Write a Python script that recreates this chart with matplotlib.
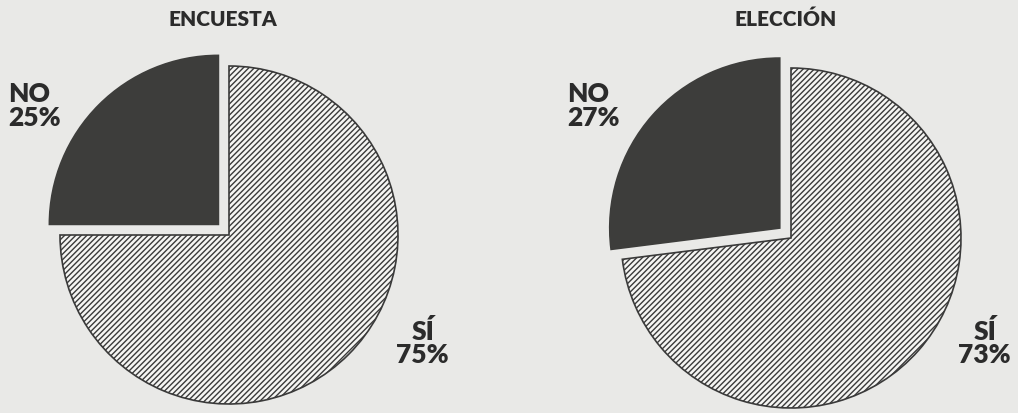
import matplotlib
matplotlib.use("Agg")
import matplotlib.pyplot as plt

# chart data
titles = ["ENCUESTA", "ELECCIÓN"]
labels = ["NO", "SÍ"]
encuesta = [25, 75]
eleccion = [27, 73]

W, H = 1018, 414
plt.rcParams["hatch.color"] = "#7a7a7a"
plt.rcParams["hatch.linewidth"] = 1.0

fig = plt.figure(figsize=(W / 100, H / 100), dpi=100)
fig.patch.set_facecolor("#e9e9e7")
# one axes over the whole figure, data units = pixels (y up)
ax = fig.add_axes([0, 0, 1, 1])

font = dict(family=["Lato", "DejaVu Sans"], fontweight="heavy", color="#2b2b2b")

# layout of each pie: centre (px from top-left), radius, title x, label positions
layout = [
    dict(cx=229, cy=236, r=169, tx=223, no_x=8, si_x=449),
    dict(cx=791, cy=239, r=170, tx=786, no_x=567, si_x=1011),
]

for vals, title, lay in zip([encuesta, eleccion], titles, layout):
    wedges, _ = ax.pie(vals, startangle=90, counterclock=True,
                       explode=[15, 0], center=(lay["cx"], H - lay["cy"]),
                       radius=lay["r"],
                       colors=["#3d3d3b", "#f5f5f3"],
                       wedgeprops=dict(linewidth=1.2, edgecolor="#3a3a3a"))
    wedges[0].set_edgecolor("#3d3d3b")
    wedges[1].set_hatch("//////")
    ax.text(lay["tx"], H - 19, title, ha="center", va="center", fontsize=15, **font)
    ax.text(lay["no_x"], H - 106, f"{labels[0]}\n{vals[0]}%", ha="left", va="center",
            fontsize=19, linespacing=0.95, **font)
    ax.text(lay["si_x"], H - 343, f"{labels[1]}\n{vals[1]}%", ha="right", va="center",
            fontsize=19, linespacing=0.95, multialignment="center", **font)

ax.set_xlim(0, W)
ax.set_ylim(0, H)
ax.set_aspect("auto")
ax.axis("off")

fig.savefig("out.png", dpi=100, facecolor=fig.get_facecolor())
